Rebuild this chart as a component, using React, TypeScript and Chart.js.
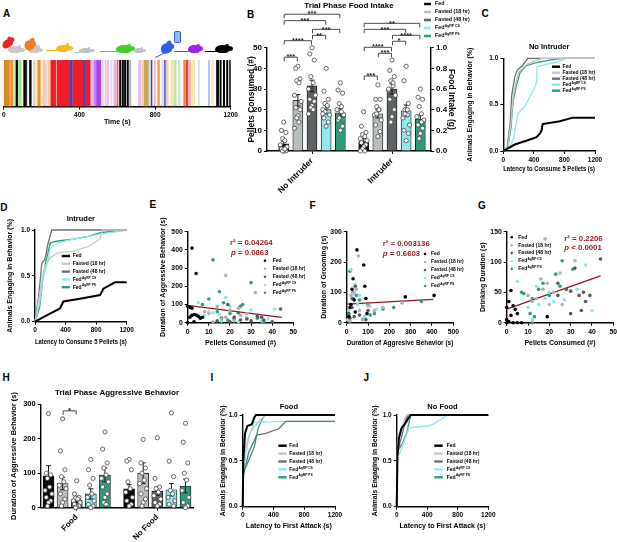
import React, { useEffect, useRef } from 'react';
import { Chart, registerables } from 'chart.js';
Chart.register(...registerables);

const FONT = "'Liberation Sans', Arial, Helvetica, sans-serif";
Chart.defaults.font.family = FONT;
(Chart.defaults.font as any).weight = 'bold';
Chart.defaults.color = '#000';

// ---------------- shared group info ----------------
const GROUP_NAMES = ['Fed', 'Fasted (18 hr)', 'Fasted (48 hr)', 'Fed', 'Fed'];
const GROUP_SUPS = ['', '', '', 'AgRP CS', 'AgRP PS'];
const LINE_COLORS = ['#000000', '#c6c6c6', '#6c6f70', '#8aeaf2', '#2e9c7c'];
const BAR_COLORS = ['#0a0a0a', '#b8bfbf', '#5e6366', '#8ee9f1', '#2f9b7d'];
const DOT_COLORS = ['#000000', '#b0b0b0', '#575a5b', '#86e9f0', '#2e9c7c'];

// ---------------- A: ethogram ----------------
const ETHO_START = [0,12,19,29,36,48,64,78,94,105,117,136,157,168,180,197,210,225,235,249,281,351,365,422,432,460,478,492,518,536,547,566,583,592,601,612,626,638,652,665,712,729,741,768,779,796,814,836,848,860,884,902,923,951,963,979,995,1029,1082,1100,1125,1143,1161,1178,1194];
const ETHO_END = [12,19,29,36,47,57,73,91,98,115,122,145,164,177,193,207,219,230,246,274,348,363,422,432,457,474,492,513,527,541,555,573,589,597,604,619,633,645,659,672,724,736,765,772,784,802,823,840,855,869,898,912,932,958,974,988,1009,1034,1089,1108,1136,1150,1168,1185,1200];
const ETHO_BEHAVIOR = ['orange','olive','orange','orange','orange','green','black','green','yellow','black','black','black','gray','yellow','orange','yellow','red','gray','orange','red','red','blue','red','blue','red','purple','purple','purple','gray','red','purple','gray','purple','red','red','black','black','black','black','gray','purple','orange','olive','gray','blue','red','orange','gray','blue','orange','yellow','green','gray','orange','red','red','yellow','gray','blue','yellow','black','black','black','black','black'];
const ETHO_OPACITY = [1,0.9,1,0.4,0.85,0.35,1,0.55,0.3,1,0.8,1,0.5,0.35,0.9,0.3,0.3,0.4,0.4,1,1,1,1,1,1,0.35,0.6,0.9,0.4,0.3,0.3,0.4,0.4,0.3,0.8,1,1,1,1,0.9,0.3,0.35,0.8,0.4,1,0.35,0.8,0.4,0.8,0.4,0.45,0.4,0.4,0.9,0.85,0.35,0.4,0.4,0.35,0.4,1,1,1,1,1];
const ETHO_PALETTE: Record<string, string> = {
  red: '#ee1c24', orange: '#ee7d1b', yellow: '#f3c22b', gray: '#a8a8a8', green: '#4cc437',
  blue: '#2c45d8', purple: '#9a32e8', black: '#000000', olive: '#b99a2a',
};

// ---------------- B: food intake bars ----------------
const B_CATEGORIES = ['No Intruder', 'Intruder'];
const B_MEANS = [[3.5, 4.5], [24.5, 18], [31.5, 30], [20, 19.5], [18.5, 15.5]];
const B_SEMS = [[1.2, 1.5], [2.8, 2], [2.8, 2.5], [2, 2.8], [2, 1.8]];
const B_POINTS = [
  [[14,10,9,6,5,3,2,1,0,0,0,1], [19,12,9,8,7,6,5,4,3,2,1,0,0]],
  [[41,40,35,34,33,27,24,21,20,17,16,14,11], [32,25,25,21.5,20,17.5,15,12.6,9.4,7,18,20]],
  [[50,47,44,36,33,30,27,25,24,22,21,20,18], [44,39,36,34,31.5,29.5,27,25,20,16.6,14,33,30]],
  [[40,29,25,23,21.5,20,17.5,16,14,12,19,22,18], [41,34,23,20,17.5,16,12.6,10,8.5,5,18,20]],
  [[33,29.5,28,23,21.5,20,17.5,15,12,10,16,19], [30,26,25,21.5,18,16.6,15,12.6,11,8.5,6,14]],
];
const B_SIG = [
  { cat: 0, g1: 0, g2: 4, y: 66.2, t: '***' },
  { cat: 0, g1: 0, g2: 3, y: 63.1, t: '***' },
  { cat: 0, g1: 2, g2: 4, y: 58.9, t: '***' },
  { cat: 0, g1: 2, g2: 3, y: 56, t: '**' },
  { cat: 0, g1: 0, g2: 2, y: 53.4, t: '****' },
  { cat: 0, g1: 0, g2: 1, y: 45.4, t: '***' },
  { cat: 1, g1: 0, g2: 4, y: 61.8, t: '**' },
  { cat: 1, g1: 0, g2: 3, y: 58.9, t: '***' },
  { cat: 1, g1: 2, g2: 4, y: 56, t: '****' },
  { cat: 1, g1: 2, g2: 3, y: 53.1, t: '*' },
  { cat: 1, g1: 0, g2: 2, y: 50.2, t: '****' },
  { cat: 1, g1: 1, g2: 2, y: 47.3, t: '***' },
  { cat: 1, g1: 0, g2: 1, y: 36.3, t: '***' },
];

// ---------------- C / D: latency to 5 pellets ----------------
const C_TIMES = [
  [0,150,300,435,480,500,515,740,910,1200],
  [0,60,100,130,170,200,300,400,500,1200],
  [0,50,90,110,150,180,250,320,1200],
  [0,80,130,196,283,350,420,435,440,700,830,1200],
  [0,60,100,130,170,220,300,420,600,800,1200],
];
const C_FRACTIONS = [
  [0,0.07,0.11,0.15,0.19,0.22,0.29,0.32,0.36,0.36],
  [0,0.05,0.3,0.6,0.75,0.85,0.93,0.97,1,1],
  [0,0.03,0.3,0.6,0.8,0.87,0.92,1,1],
  [0,0.04,0.12,0.41,0.48,0.59,0.7,0.75,0.91,0.96,1,1],
  [0,0.05,0.25,0.55,0.7,0.85,0.92,0.95,0.98,1,1],
];
const D_TIMES = [
  [0,153,327,371,589,851,895,1047,1200],
  [0,40,90,130,200,300,500,700,850,880,1200],
  [0,50,90,130,170,220,1200],
  [0,60,100,150,200,300,500,700,900,1200],
  [0,60,100,140,200,300,500,700,850,1200],
];
const D_FRACTIONS = [
  [0,0.07,0.145,0.22,0.25,0.29,0.36,0.43,0.43],
  [0,0.2,0.45,0.6,0.7,0.75,0.77,0.82,0.9,1,1],
  [0,0.3,0.64,0.68,0.85,1,1],
  [0,0.2,0.45,0.6,0.8,0.86,0.9,0.93,0.96,1],
  [0,0.15,0.45,0.65,0.86,0.88,0.9,0.93,0.97,1],
];

// ---------------- E / F / G: scatter ----------------
const E_X = [
  [2,4,0,1,2,1,2,3,4,5,6,7,0,3],
  [18,32,14,10,20,25,16,22,12,28,8,18,24],
  [44,19,33,35,30,25,16,22,28,40,36,24,20,14],
  [5,18,41,10,12,15,20,28,35,38,24,16,8,30],
  [12,30,15,10,26,17,7,20,22,33,36,14,19,25],
];
const E_Y = [
  [410,270,90,85,80,30,40,45,42,35,25,30,0,5],
  [260,165,90,50,70,40,20,10,5,50,60,30,80],
  [75,100,35,30,10,15,25,30,20,5,15,55,5,10],
  [110,140,75,60,55,45,90,30,10,20,5,10,40,70],
  [345,220,170,130,100,110,100,50,20,25,5,60,15,90],
];
const E_FIT_X = [0, 44.5];
const E_FIT_Y = [95, 29];
const F_X = [
  [48,80,85,90,30,25,35,275,410,20,15,10,40,95],
  [55,260,170,130,20,60,45,35,75,15,100],
  [30,20,10,40,35,60,100,25,15,90],
  [20,40,60,140,75,10,5,110,30,85,50],
  [350,220,170,130,100,25,15,30,60,45,110,12],
];
const F_Y = [
  [240,190,120,80,145,110,75,85,90,60,50,20,35,30],
  [220,65,50,40,90,40,110,100,10,5,55],
  [80,60,30,120,20,25,40,50,15,10],
  [175,125,90,45,15,40,10,55,95,20,60],
  [70,50,45,30,60,80,170,100,75,90,25,20],
];
const F_FIT_X = [0, 406];
const F_FIT_Y = [61, 77];
const G_X = [
  [2,1,0,3,4,5,2,0,1,3,5,7,19,0],
  [18,32,25,16,19,22,14,12,20,26,10,17],
  [44,32,24,30,36,34,37,39,30,35,28,24],
  [37,5,20,14,18,22,27,33,40,10,12,15],
  [26,31,23,17,7,12,15,11,13,20,25,8,12],
];
const G_Y = [
  [53,35,25,28,22,15,12,5,2,0,0,0,10,0],
  [138,102,82,72,65,50,40,35,30,30,45,55],
  [105,90,65,52,50,45,35,45,15,20,55,45],
  [95,68,50,60,40,35,38,55,20,25,5,30],
  [102,88,80,65,50,40,55,15,10,45,60,48,0],
];
const G_FIT_X = [0, 44];
const G_FIT_Y = [22.5, 77];

// ---------------- H: aggression bars ----------------
const H_CATEGORIES = ['Food', 'No Food'];
const H_MEANS = [[92, 55], [70, 100], [23, 48], [40, 52], [95, 63]];
const H_SEMS = [[30, 12], [18, 30], [8, 12], [15, 18], [20, 20]];
const H_POINTS = [
  [[273,100,95,85,60,50,40,30,20,15,5], [140,135,110,75,55,45,30,20,10,5]],
  [[258,165,110,90,75,65,55,40,25,15,5], [198,130,115,100,80,70,55,40,25,15,5]],
  [[78,40,30,28,25,20,15,10,5,2,0], [203,85,60,55,45,35,25,15,10,5]],
  [[140,110,85,65,40,30,20,10,5,0], [275,135,90,50,40,30,20,10,5]],
  [[220,170,130,115,95,85,75,60,40,30,15,10], [245,190,130,100,80,50,30,15,5,0]],
];
const H_SIG = [{ cat: 0, g1: 1, g2: 2, y: 281, t: '*' }];

// ---------------- I / J: latency to first attack ----------------
const I_TIMES = [
  [0,8,30,60,120,150,170,1200],
  [0,10,40,90,150,230,300,1200],
  [0,10,40,80,150,180,300,470,560,1200],
  [0,10,40,80,150,560,1200],
  [0,10,50,100,150,200,250,290,1200],
];
const I_FRACTIONS = [
  [0,0.5,0.8,0.88,0.9,0.97,1,1],
  [0,0.5,0.65,0.8,0.87,0.95,1,1],
  [0,0.35,0.45,0.6,0.72,0.78,0.8,0.85,0.93,0.93],
  [0,0.4,0.55,0.75,0.92,0.93,0.93],
  [0,0.38,0.45,0.55,0.65,0.85,0.95,1,1],
];
const J_TIMES = [
  [0,10,30,60,120,180,1200],
  [0,10,50,100,130,1200],
  [0,10,60,120,150,1200],
  [0,10,40,160,400,480,670,1200],
  [0,10,80,130,170,190,1200],
];
const J_FRACTIONS = [
  [0,0.55,0.75,0.85,0.92,1,1],
  [0,0.7,0.8,0.95,1,1],
  [0,0.6,0.75,0.95,1,1],
  [0,0.55,0.58,0.86,0.88,0.9,1,1],
  [0,0.6,0.7,0.8,0.95,1,1],
];

// ---------------- helpers ----------------
type R = { l: number; t: number; r: number; b: number };
const rgba = (hex: string, a: number) => {
  const n = parseInt(hex.slice(1), 16);
  return `rgba(${(n >> 16) & 255},${(n >> 8) & 255},${n & 255},${a})`;
};
const JIT = [0, -2, 2, -1, 1, -3, 3, -2, 2, 0, -1, 1, -3, 3];
const NOTE_COLOR = '#9b1c22';

function computeFrame(f: any) {
  const lh = (s?: number) => (s || 0) * 1.2;
  let yW = 0, padL = f.plot.l - f.canvas.l;
  if (f.yTitleX !== undefined) { const sl = f.yTitleX - lh(f.ySize) / 2; yW = f.plot.l - sl; padL = sl - f.canvas.l; }
  let y2W = 0, padR = f.canvas.r - f.plot.r;
  if (f.y2TitleX !== undefined) { const sr = f.y2TitleX + lh(f.y2Size) / 2; y2W = sr - f.plot.r; padR = f.canvas.r - sr; }
  let xH: number, padB: number;
  if (f.xTitleY !== undefined) { xH = f.xTitleY - f.plot.b + lh(f.xSize) / 2; padB = f.canvas.b - f.plot.b - xH; }
  else { xH = f.canvas.b - f.plot.b; padB = 0; }
  let padT = f.plot.t - f.canvas.t;
  let titlePad = { top: 0, bottom: 0 };
  if (f.titleY !== undefined) {
    const L = lh(f.titleSize);
    const tp = f.titleY - f.canvas.t - L / 2;
    titlePad = { top: tp, bottom: f.plot.t - f.canvas.t - tp - L };
    padT = 0;
  }
  return { yW, y2W, xH, padding: { left: padL, right: padR, top: padT, bottom: padB }, titlePad };
}

function linScale(o: any) {
  const vertical = o.pos !== 'bottom';
  const s: any = {
    type: 'linear', position: o.pos, min: o.min, max: o.max, offset: false,
    afterFit: (sc: any) => { if (vertical) sc.width = o.size; else sc.height = o.size; },
    ticks: {
      stepSize: o.step, autoSkip: false, minRotation: o.rot || 0, maxRotation: o.rot || 0, padding: 2,
      font: { size: o.tick, weight: 'bold', family: FONT }, color: '#000',
      callback: (v: any, i: number) => (o.labels ? o.labels[i] : o.fmt ? o.fmt(Number(v)) : String(v)),
    },
    grid: { display: true, offset: false, drawOnChartArea: false, drawTicks: true, tickLength: 3, color: '#000', lineWidth: 1 },
    border: { display: true, color: '#000', width: 1.4 },
    title: { display: !!o.title, text: o.title || '', font: { size: o.titleSize || 7, weight: 'bold', family: FONT }, color: '#000', padding: 0 },
  };
  if (o.ticksAt) s.afterBuildTicks = (sc: any) => { sc.ticks = o.ticksAt.map((v: number) => ({ value: v })); };
  return s;
}

function extrasPlugin(e: any) {
  return {
    id: 'extras',
    afterDatasetDraw(chart: any, args: any) {
      const eb = e.errors && e.errors[args.index];
      if (!eb) return;
      const { ctx } = chart; const xs = chart.scales.x; const ys = chart.scales.y;
      ctx.save(); ctx.strokeStyle = '#1a1a1a'; ctx.lineWidth = 1;
      eb.x.forEach((xv: number, i: number) => {
        const px = xs.getPixelForValue(xv);
        const top = ys.getPixelForValue(eb.mean[i] + eb.sem[i]);
        const bot = ys.getPixelForValue(Math.max(0, eb.mean[i] - eb.sem[i]));
        ctx.beginPath();
        ctx.moveTo(px, top); ctx.lineTo(px, bot);
        ctx.moveTo(px - 2.5, top); ctx.lineTo(px + 2.5, top);
        ctx.moveTo(px - 2.5, bot); ctx.lineTo(px + 2.5, bot);
        ctx.stroke();
      });
      ctx.restore();
    },
    afterDraw(chart: any) {
      const { ctx } = chart;
      ctx.save();
      if (e.brackets) {
        const xs = chart.scales.x; const ys = chart.scales.y;
        e.brackets.forEach((b: any) => {
          const x1 = xs.getPixelForValue(b.x1) + 0.5, x2 = xs.getPixelForValue(b.x2) - 0.5;
          const y = ys.getPixelForValue(b.y);
          ctx.strokeStyle = '#333'; ctx.lineWidth = 0.9;
          ctx.beginPath(); ctx.moveTo(x1, y + 4); ctx.lineTo(x1, y); ctx.lineTo(x2, y); ctx.lineTo(x2, y + 4); ctx.stroke();
          ctx.fillStyle = '#222'; ctx.font = `bold ${e.bracketSize || 7.5}px ${FONT}`;
          ctx.textAlign = 'center'; ctx.textBaseline = 'alphabetic';
          ctx.fillText(b.text, (x1 + x2) / 2, y + 2.2);
        });
      }
      if (e.legend) {
        const L = e.legend;
        GROUP_NAMES.forEach((name, i) => {
          const y = L.y + i * L.row;
          if (L.kind === 'line') {
            ctx.strokeStyle = L.colors[i]; ctx.lineWidth = L.lw || 2.4;
            ctx.beginPath(); ctx.moveTo(L.x, y); ctx.lineTo(L.x + L.len, y); ctx.stroke();
          } else {
            ctx.fillStyle = L.colors[i];
            ctx.beginPath(); ctx.arc(L.x, y, L.r || 1.4, 0, Math.PI * 2); ctx.fill();
          }
          const tx = L.x + (L.kind === 'line' ? L.len : 0) + L.gap;
          ctx.fillStyle = '#000'; ctx.textAlign = 'left'; ctx.textBaseline = 'middle';
          ctx.font = `bold ${L.size}px ${FONT}`;
          ctx.fillText(name, tx, y);
          if (GROUP_SUPS[i]) {
            const w = ctx.measureText(name).width;
            ctx.font = `bold ${L.size * 0.65}px ${FONT}`;
            ctx.fillText(GROUP_SUPS[i], tx + w + 0.3, y - L.size * 0.35);
          }
        });
      }
      if (e.notes) {
        e.notes.forEach((n: any) => {
          ctx.fillStyle = NOTE_COLOR; ctx.textAlign = 'left'; ctx.textBaseline = 'middle';
          if (n.text.startsWith('p ')) {
            ctx.font = `italic bold ${e.noteSize}px ${FONT}`;
            ctx.fillText('p', n.x, n.y);
            const w = ctx.measureText('p').width;
            ctx.font = `bold ${e.noteSize}px ${FONT}`;
            ctx.fillText(n.text.slice(1), n.x + w, n.y);
          } else {
            ctx.font = `bold ${e.noteSize}px ${FONT}`;
            ctx.fillText(n.text, n.x, n.y);
          }
        });
      }
      ctx.restore();
    },
  };
}

function baseOptions(f: any, title?: string, titleSize?: number) {
  return {
    responsive: true, maintainAspectRatio: false, animation: false, events: [],
    layout: { padding: f.padding },
    plugins: {
      legend: { display: false }, tooltip: { enabled: false },
      title: title ? { display: true, text: title, fullSize: false, font: { size: titleSize, weight: 'bold', family: FONT }, color: '#000', padding: f.titlePad } : { display: false },
    },
  };
}

// ---------------- chart builders ----------------
const A_CANVAS: R = { l: 0, t: 56, r: 245, b: 130 };
const A_PLOT: R = { l: 3.5, t: 60, r: 230.7, b: 106.5 };
function makeA() {
  const f = computeFrame({ canvas: A_CANVAS, plot: A_PLOT, xTitleY: 122.3, xSize: 7 });
  return {
    type: 'bar',
    data: {
      labels: ['trial'],
      datasets: [{
        data: ETHO_START.map((s, i) => ({ x: [s, ETHO_END[i]], y: 'trial' })),
        backgroundColor: ETHO_BEHAVIOR.map((k, i) => rgba(ETHO_PALETTE[k], ETHO_OPACITY[i])),
        borderWidth: 0, barPercentage: 1, categoryPercentage: 1, grouped: false,
      }],
    },
    options: {
      ...baseOptions(f), indexAxis: 'y',
      scales: {
        x: linScale({ pos: 'bottom', min: 0, max: 1200, step: 400, size: f.xH, tick: 6.5, title: 'Time (s)', titleSize: 7 }),
        y: { display: false },
      },
    },
    plugins: [],
  };
}

function makeGroupedBars(spec: any) {
  const f = computeFrame(spec.frame);
  const OFF = [-2, -1, 0, 1, 2].map((k) => k * spec.step);
  const bars = spec.means.map((m: number[], g: number) => ({
    type: 'bar', label: GROUP_NAMES[g] + GROUP_SUPS[g],
    data: m.map((v, c) => ({ x: c + 1 + OFF[g], y: v })),
    backgroundColor: BAR_COLORS[g], borderColor: '#111', borderWidth: 0.8,
    barThickness: spec.barW, grouped: false, order: 2,
  }));
  const dots = spec.points.map((pc: number[][], g: number) => ({
    type: 'scatter', label: 'pts' + g,
    data: pc.flatMap((vals, c) => vals.map((v, k) => ({ x: c + 1 + OFF[g] + JIT[k % JIT.length] * spec.jit, y: v }))),
    pointRadius: 2.1, pointBackgroundColor: '#fff', pointBorderColor: '#444', pointBorderWidth: 0.8,
    order: 1, clip: false,
  }));
  const errors: any = {};
  spec.means.forEach((m: number[], g: number) => { errors[g] = { x: m.map((_, c) => c + 1 + OFF[g]), mean: m, sem: spec.sems[g] }; });
  const brackets = spec.sig.map((s: any) => ({ x1: s.cat + 1 + OFF[s.g1], x2: s.cat + 1 + OFF[s.g2], y: s.y, text: s.t }));
  const scales: any = {
    x: linScale({ pos: 'bottom', min: spec.xMin, max: spec.xMax, size: f.xH, tick: spec.catSize, ticksAt: [1, 2], labels: spec.cats, rot: 45 }),
    y: linScale({ pos: 'left', min: 0, max: spec.yMax, step: spec.yStep, size: f.yW, tick: spec.tick, title: spec.yTitle, titleSize: spec.frame.ySize }),
  };
  if (spec.y2Title) {
    scales.y2 = linScale({ pos: 'right', min: 0, max: 1, step: 0.2, size: f.y2W, tick: spec.tick, title: spec.y2Title, titleSize: spec.frame.y2Size, fmt: (v: number) => v.toFixed(1) });
  }
  return {
    type: 'bar',
    data: { datasets: [...bars, ...dots] },
    options: { ...baseOptions(f, spec.title, spec.frame.titleSize), scales },
    plugins: [extrasPlugin({ errors, brackets, bracketSize: spec.bracketSize, legend: spec.legend })],
  };
}

const B_CANVAS: R = { l: 236, t: 0, r: 515, b: 200 };
function makeB() {
  return makeGroupedBars({
    frame: { canvas: B_CANVAS, plot: { l: 267, t: 47.7, r: 431, b: 151 }, yTitleX: 251.7, ySize: 8.5, y2TitleX: 451.7, y2Size: 8.5, titleY: 5.5, titleSize: 8 },
    title: 'Trial Phase Food Intake', cats: B_CATEGORIES, means: B_MEANS, sems: B_SEMS, points: B_POINTS, sig: B_SIG,
    step: 0.177, jit: 0.014, barW: 10, xMin: 0.4375, xMax: 2.4875, yMax: 50, yStep: 10, tick: 8, catSize: 8.5,
    yTitle: 'Pellets Consumed (#)', y2Title: 'Food Intake (g)', bracketSize: 7.5,
    legend: { x: 188, y: 4, row: 8, kind: 'line', len: 7, gap: 4, size: 5.3, lw: 2.5, colors: BAR_COLORS },
  });
}

const H_CANVAS: R = { l: 0, t: 375, r: 205, b: 542 };
function makeH() {
  return makeGroupedBars({
    frame: { canvas: H_CANVAS, plot: { l: 40.7, t: 404.3, r: 193.3, b: 507.7 }, yTitleX: 14, ySize: 7.5, titleY: 392.7, titleSize: 8 },
    title: 'Trial Phase Aggressive Behavior', cats: H_CATEGORIES, means: H_MEANS, sems: H_SEMS, points: H_POINTS, sig: H_SIG,
    step: 0.175, jit: 0.014, barW: 11, xMin: 0.553, xMax: 2.447, yMax: 300, yStep: 100, tick: 7.5, catSize: 8,
    yTitle: 'Duration of Aggressive Behavior (s)', bracketSize: 8,
  });
}

function makeCurves(spec: any) {
  const f = computeFrame(spec.frame);
  const datasets = spec.times.map((ts: number[], g: number) => ({
    type: 'line', label: GROUP_NAMES[g] + GROUP_SUPS[g],
    data: ts.map((t, k) => ({ x: t, y: spec.fractions[g][k] })),
    borderColor: LINE_COLORS[g], borderWidth: g === 0 ? 2 : 1.3, pointRadius: 0, tension: 0, fill: false, clip: false,
  }));
  return {
    type: 'line',
    data: { datasets },
    options: {
      ...baseOptions(f, spec.title, spec.frame.titleSize),
      scales: {
        x: linScale({ pos: 'bottom', min: 0, max: 1200, step: 400, size: f.xH, tick: spec.tick, title: spec.xTitle, titleSize: spec.frame.xSize }),
        y: linScale({ pos: 'left', min: 0, max: 1, step: 0.5, size: f.yW, tick: spec.tick, title: 'Animals Engaging in Behavior (%)', titleSize: spec.frame.ySize, fmt: (v: number) => v.toFixed(1) }),
      },
    },
    plugins: [extrasPlugin({ legend: spec.legend })],
  };
}

const C_CANVAS: R = { l: 462, t: 30, r: 612, b: 180 };
const D_CANVAS: R = { l: 0, t: 200, r: 145, b: 352 };
const I_CANVAS: R = { l: 205, t: 385, r: 350, b: 542 };
const J_CANVAS: R = { l: 360, t: 385, r: 505, b: 542 };
const makeC = () => makeCurves({
  frame: { canvas: C_CANVAS, plot: { l: 503.3, t: 58.3, r: 595, b: 151 }, yTitleX: 470, ySize: 7, xTitleY: 169, xSize: 7, titleY: 47.3, titleSize: 7.5 },
  title: 'No Intruder', times: C_TIMES, fractions: C_FRACTIONS, tick: 6.5, xTitle: 'Latency to Consume 5 Pellets (s)',
  legend: { x: 90, y: 36.7, row: 6, kind: 'line', len: 8, gap: 2.4, size: 5, lw: 2.4, colors: LINE_COLORS },
});
const makeD = () => makeCurves({
  frame: { canvas: D_CANVAS, plot: { l: 35, t: 230, r: 126.7, b: 321.7 }, yTitleX: 10, ySize: 7, xTitleY: 342.3, xSize: 7, titleY: 219.3, titleSize: 7.5 },
  title: 'Intruder', times: D_TIMES, fractions: D_FRACTIONS, tick: 6.5, xTitle: 'Latency to Consume 5 Pellets (s)',
  legend: { x: 61.7, y: 56, row: 7.8, kind: 'line', len: 8.3, gap: 2.7, size: 5, lw: 2.4, colors: LINE_COLORS },
});
const makeI = () => makeCurves({
  frame: { canvas: I_CANVAS, plot: { l: 242.7, t: 415, r: 335, b: 506.7 }, yTitleX: 223, ySize: 6.8, xTitleY: 525.7, xSize: 7, titleY: 406.7, titleSize: 7.5 },
  title: 'Food', times: I_TIMES, fractions: I_FRACTIONS, tick: 6.5, xTitle: 'Latency to First Attack (s)',
  legend: { x: 73.3, y: 60.7, row: 7.9, kind: 'line', len: 8.4, gap: 2.6, size: 5, lw: 2.4, colors: LINE_COLORS },
});
const makeJ = () => makeCurves({
  frame: { canvas: J_CANVAS, plot: { l: 396.7, t: 415, r: 488.3, b: 506.7 }, yTitleX: 375, ySize: 6.8, xTitleY: 525.7, xSize: 7, titleY: 406.7, titleSize: 7.5 },
  title: 'No Food', times: J_TIMES, fractions: J_FRACTIONS, tick: 6.5, xTitle: 'Latency to First Attack (s)',
  legend: { x: 74.3, y: 60.7, row: 7.9, kind: 'line', len: 8.4, gap: 4, size: 5, lw: 2.4, colors: LINE_COLORS },
});

function makeScatter(spec: any) {
  const f = computeFrame(spec.frame);
  const datasets: any[] = spec.xs.map((xv: number[], g: number) => ({
    type: 'scatter', label: GROUP_NAMES[g] + GROUP_SUPS[g],
    data: xv.map((x, k) => ({ x, y: spec.ys[g][k] })),
    pointRadius: 1.8, pointBackgroundColor: DOT_COLORS[g], pointBorderWidth: 0, clip: false,
  }));
  datasets.push({
    type: 'line', label: 'fit', data: spec.fitX.map((x: number, k: number) => ({ x, y: spec.fitY[k] })),
    borderColor: '#8e1b1f', borderWidth: 1.3, pointRadius: 0, tension: 0, fill: false,
  });
  return {
    type: 'scatter',
    data: { datasets },
    options: {
      ...baseOptions(f),
      scales: {
        x: linScale({ pos: 'bottom', min: 0, max: spec.xMax, step: spec.xStep, size: f.xH, tick: 6.8, title: spec.xTitle, titleSize: spec.frame.xSize }),
        y: linScale({ pos: 'left', min: 0, max: spec.yMax, step: spec.yStep, size: f.yW, tick: 6.8, title: spec.yTitle, titleSize: spec.frame.ySize }),
      },
    },
    plugins: [extrasPlugin({ legend: spec.legend, notes: spec.notes, noteSize: 7.8 })],
  };
}

const E_CANVAS: R = { l: 150, t: 215, r: 305, b: 352 };
const F_CANVAS: R = { l: 310, t: 215, r: 468, b: 352 };
const G_CANVAS: R = { l: 470, t: 215, r: 622, b: 352 };
const makeE = () => makeScatter({
  frame: { canvas: E_CANVAS, plot: { l: 187.7, t: 231.7, r: 293.3, b: 322.7 }, yTitleX: 163.3, ySize: 7, xTitleY: 343.3, xSize: 7 },
  xs: E_X, ys: E_Y, fitX: E_FIT_X, fitY: E_FIT_Y, xMax: 50, xStep: 10, yMax: 500, yStep: 100,
  xTitle: 'Pellets Consumed (#)', yTitle: 'Duration of Aggressive Behavior (s)',
  legend: { x: 115, y: 45.7, row: 8, kind: 'dot', gap: 7.7, size: 5, r: 1.3, colors: DOT_COLORS },
  notes: [{ x: 80, y: 28.3, text: 'r² = 0.04264' }, { x: 81, y: 37.5, text: 'p = 0.0863' }],
});
const makeF = () => makeScatter({
  frame: { canvas: F_CANVAS, plot: { l: 346.7, t: 231.7, r: 453.3, b: 322.7 }, yTitleX: 324, ySize: 7, xTitleY: 343.3, xSize: 7 },
  xs: F_X, ys: F_Y, fitX: F_FIT_X, fitY: F_FIT_Y, xMax: 500, xStep: 100, yMax: 300, yStep: 100,
  xTitle: 'Duration of Aggresive Behavior (s)', yTitle: 'Duration of Grooming (s)',
  legend: { x: 115, y: 39, row: 8, kind: 'dot', gap: 6, size: 5, r: 1.3, colors: DOT_COLORS },
  notes: [{ x: 72.7, y: 29.3, text: 'r² = 0.003136' }, { x: 72.7, y: 38.8, text: 'p = 0.6603' }],
});
const makeG = () => makeScatter({
  frame: { canvas: G_CANVAS, plot: { l: 506.7, t: 231.7, r: 613.3, b: 322.7 }, yTitleX: 483.3, ySize: 7, xTitleY: 343.3, xSize: 7 },
  xs: G_X, ys: G_Y, fitX: G_FIT_X, fitY: G_FIT_Y, xMax: 50, xStep: 10, yMax: 150, yStep: 50,
  xTitle: 'Pellets Consumed (#)', yTitle: 'Drinking Duration (s)',
  legend: { x: 41.7, y: 22.3, row: 7.9, kind: 'dot', gap: 6.6, size: 5, r: 1.3, colors: DOT_COLORS },
  notes: [{ x: 94.3, y: 23.8, text: 'r² = 0.2206' }, { x: 94.3, y: 33, text: 'p < 0.0001' }],
});

// ---------------- components ----------------
function ChartBox({ rect, make }: { rect: R; make: () => any }) {
  const ref = useRef<HTMLCanvasElement>(null);
  useEffect(() => {
    const c = new Chart(ref.current as HTMLCanvasElement, make());
    return () => c.destroy();
  }, []);
  return (
    <div style={{ position: 'absolute', left: rect.l, top: rect.t, width: rect.r - rect.l, height: rect.b - rect.t }}>
      <canvas ref={ref} />
    </div>
  );
}

function Mouse({ x, y, w, h, color, tail = 0, rot = 0 }: any) {
  return (
    <div style={{ position: 'absolute', left: x, top: y, width: w, height: h, transform: rot ? `rotate(${rot}deg)` : undefined }}>
      {tail > 0 && <div style={{ position: 'absolute', left: -tail, top: h * 0.8, width: tail + 2, height: 1.2, background: color, borderRadius: 1 }} />}
      <div style={{ position: 'absolute', left: 0, top: h * 0.18, width: w * 0.78, height: h * 0.82, background: color, borderRadius: '55% 45% 35% 45%' }} />
      <div style={{ position: 'absolute', left: w * 0.58, top: h * 0.32, width: w * 0.42, height: h * 0.5, background: color, borderRadius: '40% 75% 60% 40%' }} />
      <div style={{ position: 'absolute', left: w * 0.56, top: h * 0.05, width: h * 0.4, height: h * 0.4, background: color, borderRadius: '50%' }} />
    </div>
  );
}

function Letter({ x, y, s }: { x: number; y: number; s: string }) {
  return <div style={{ position: 'absolute', left: x - 3.6, top: y - 5.9, fontSize: 10, lineHeight: '12px', fontWeight: 'bold', fontFamily: FONT, color: '#000' }}>{s}</div>;
}

export default function App() {
  return (
    <div style={{ position: 'absolute', left: 0, top: 0, width: 617, height: 542, overflow: 'hidden', background: '#fff', fontFamily: FONT }}>
      <Letter x={6.7} y={14} s="A" />
      <Letter x={250.7} y={15} s="B" />
      <Letter x={485} y={14} s="C" />
      <Letter x={3.8} y={208} s="D" />
      <Letter x={153} y={205} s="E" />
      <Letter x={313} y={206} s="F" />
      <Letter x={481.7} y={206} s="G" />
      <Letter x={6} y={378} s="H" />
      <Letter x={214} y={378} s="I" />
      <Letter x={367} y={378} s="J" />

      <Mouse x={8} y={45} w={17} h={8} color="#c8c8c8" />
      <Mouse x={1} y={37} w={14} h={10} color="#ee2222" rot={-35} />
      <Mouse x={28} y={45} w={15} h={8} color="#c8c8c8" />
      <Mouse x={24} y={38} w={12} h={12} color="#f08020" rot={-20} />
      <Mouse x={56} y={43} w={17} h={9} color="#f8b820" tail={10} />
      <Mouse x={79} y={47} w={16} h={6} color="#c0c0c0" tail={5} />
      <Mouse x={116} y={43} w={19} h={10} color="#3fd020" tail={16} />
      <Mouse x={134} y={47} w={12} h={6} color="#c0c0c0" />
      <Mouse x={160} y={41} w={14} h={12} color="#2f5ff0" tail={8} rot={-25} />
      <div style={{ position: 'absolute', left: 174, top: 31, width: 5, height: 10, background: '#8fb8f0', border: '0.8px solid #3060d0', borderRadius: 1.5 }} />
      <Mouse x={188} y={43} w={15} h={10} color="#a020f0" tail={14} />
      <Mouse x={215} y={43} w={18} h={10} color="#000" tail={10} />

      <ChartBox rect={A_CANVAS} make={makeA} />
      <ChartBox rect={B_CANVAS} make={makeB} />
      <ChartBox rect={C_CANVAS} make={makeC} />
      <ChartBox rect={D_CANVAS} make={makeD} />
      <ChartBox rect={E_CANVAS} make={makeE} />
      <ChartBox rect={F_CANVAS} make={makeF} />
      <ChartBox rect={G_CANVAS} make={makeG} />
      <ChartBox rect={H_CANVAS} make={makeH} />
      <ChartBox rect={I_CANVAS} make={makeI} />
      <ChartBox rect={J_CANVAS} make={makeJ} />
    </div>
  );
}
